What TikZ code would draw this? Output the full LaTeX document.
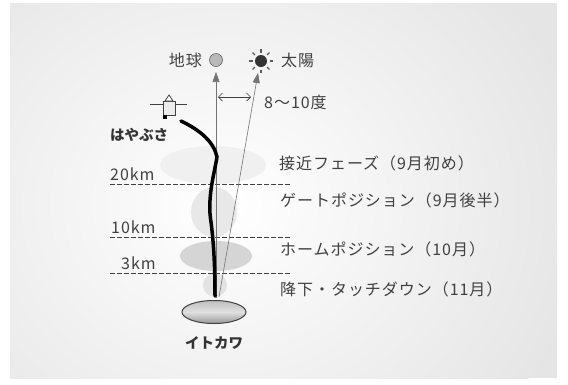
\documentclass[tikz,border=0pt]{standalone}
\usepackage{fontspec}
\setmainfont{Noto Sans CJK JP}
\usetikzlibrary{arrows.meta,calc,shapes.geometric}
\definecolor{bggray}{gray}{0.9}
\definecolor{txtgray}{gray}{0.25}
\tikzset{
	lbl/.style={text=txtgray, font=\fontsize{16}{18}\selectfont\addfontfeature{LetterSpace=6}, inner sep=0pt},
	boldlbl/.style={text=txtgray!80!black, font=\fontsize{14.5}{16}\selectfont\bfseries, inner sep=0pt},
	kmline/.style={dashed, dash pattern=on 4.5pt off 2.5pt, line width=0.8pt, color=black!75},
	dirline/.style={line width=0.6pt, color=gray!90!black, -{Triangle[length=10pt,width=7pt]}},
	zone/.style={draw=none}
}
\begin{document}
\begin{tikzpicture}[x=1pt,y=-1pt]
			%%%%% START %%%%%
			\useasboundingbox (0,0) rectangle (568,384);
			\fill[white] (0,0) rectangle (568,384);
			\fill[bggray] (10,3) rectangle (557,378);
			\begin{scope}
				\clip (10,3) rectangle (557,378);
				\shade[inner color=white, outer color=bggray] (226,205) ellipse (360 and 320);
			\end{scope}
			
			% zones around the descent path
			\fill[zone, gray!12] (213,165) ellipse (53 and 19);
			\fill[zone, gray!18] (214,212) ellipse (23 and 25);
			\fill[zone, gray!33] (216,256) ellipse (36 and 15);
			\fill[zone, gray!22] (215,285) ellipse (12 and 12);
			
			% altitude levels
			\draw[kmline] (110,184) -- (290,184);
			\draw[kmline] (110,237) -- (290,237);
			\draw[kmline] (110,273) -- (290,273);
			\node[lbl, anchor=west] (km20) at (110,174) {20km};
			\node[lbl, anchor=west] (km10) at (111,227) {10km};
			\node[lbl, anchor=west] (km3) at (121,263) {3km};
			
			% phases
			\node[lbl, anchor=west] (approach) at (279,163) {接近フェーズ（9月初め）};
			\node[lbl, anchor=west] (gate) at (280,200) {ゲートポジション（9月後半）};
			\node[lbl, anchor=west] (home) at (280,249) {ホームポジション（10月）};
			\node[lbl, anchor=west] (descent) at (280,289) {降下・タッチダウン（11月）};
			
			% Itokawa
			\node[draw=black!75, line width=1pt, ellipse, minimum width=64pt, minimum height=23pt,
				top color=gray!50, bottom color=gray!80, middle color=gray!25] (itokawa) at (214,312) {};
			\node[boldlbl] (itokawaname) at (214,343) {イトカワ};
			
			% Earth and Sun
			\node[circle, draw=gray!80!black, fill=gray!55, line width=0.6pt, minimum size=13pt, inner sep=0pt] (earth) at (216,60) {};
			\node[lbl, anchor=east] (earthname) at (202,60) {地球};
			\node[circle, fill=black!80, minimum size=12pt, inner sep=0pt] (sun) at (261,61) {};
			\foreach \a in {0,45,...,315}
				\draw[line width=1.3pt, color=black!65] ($(sun)+(\a:8.5)$) -- ($(sun)+(\a:12)$);
			\node[lbl, anchor=west] (sunname) at (281,60) {太陽};
			
			\coordinate (base) at (216,298);
			\coordinate (sunbase) at (219,297);
			\coordinate (earthdir) at (216,72);
			\coordinate (sundir) at (258,73);
			\draw[dirline] (base) -- (earthdir);
			\draw[dirline] (sunbase) -- (sundir);
			\draw[{Straight Barb[length=4pt]}-{Straight Barb[length=4pt]}, line width=0.7pt, color=black!75] (218,97) -- (251,97);
			\node[lbl, anchor=west] (angle) at (264,102) {8〜10度};
			
			% Hayabusa
			\draw[line width=1pt, color=black!75] (150,104) -- (187,104);
			\draw[line width=0.8pt, color=black!75, fill=gray!15] (163,101) rectangle (175,115);
			\draw[line width=0.8pt, color=black!75, fill=white] (165,101) -- (169,95) -- (173,101) -- cycle;
			\fill[black] (163,115) rectangle (167,119);
			\node[boldlbl, anchor=west] (hayabusa) at (110,135) {はやぶさ};
			
			% descent trajectory
			\draw[line width=3.5pt, color=black, line cap=round] (181,121) .. controls (200,130) and (214,142) .. (217,157)
				.. controls (214,175) and (207,198) .. (211,222)
				.. controls (214,245) and (215,270) .. (215,296);
			
			%%%%% END %%%%%
		\end{tikzpicture}
\end{document}
